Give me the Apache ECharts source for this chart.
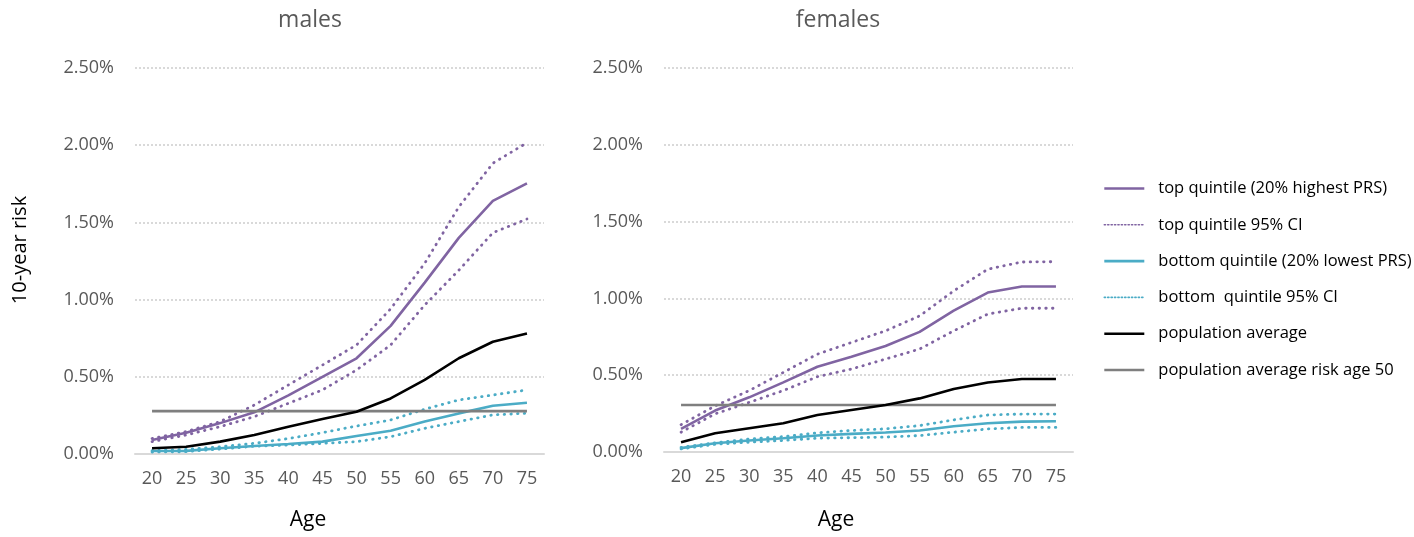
<!DOCTYPE html>
<html>
<head>
<meta charset="utf-8">
<script src="https://cdn.jsdelivr.net/npm/echarts@6/dist/echarts.min.js"></script>
<style>
html,body{margin:0;padding:0;background:#fff;}
#chart{width:1414px;height:537px;}
</style>
</head>
<body>
<div id="chart"></div>
<script>
// ---- data (values in %) ----
const ages = ['20','25','30','35','40','45','50','55','60','65','70','75'];
const yTicks = [0, 0.5, 1.0, 1.5, 2.0, 2.5];

const maleTop    = [0.09, 0.138, 0.20, 0.27, 0.38, 0.50, 0.62, 0.83, 1.11, 1.40, 1.64, 1.753];
const maleTopUp  = [0.10, 0.145, 0.21, 0.317, 0.447, 0.576, 0.706, 0.94, 1.235, 1.60, 1.883, 2.016];
const maleTopLo  = [0.08, 0.123, 0.177, 0.242, 0.328, 0.415, 0.544, 0.706, 0.965, 1.19, 1.433, 1.522];
const maleBot    = [0.019, 0.02, 0.037, 0.052, 0.065, 0.08, 0.117, 0.151, 0.21, 0.263, 0.313, 0.332];
const maleBotUp  = [0.022, 0.03, 0.047, 0.069, 0.10, 0.138, 0.181, 0.22, 0.29, 0.35, 0.382, 0.415];
const maleBotLo  = [0.013, 0.015, 0.032, 0.05, 0.058, 0.069, 0.08, 0.112, 0.166, 0.21, 0.253, 0.264];
const malePop    = [0.037, 0.047, 0.08, 0.123, 0.177, 0.227, 0.274, 0.36, 0.48, 0.62, 0.727, 0.78];
const maleRef50  = [0.278, 0.278, 0.278, 0.278, 0.278, 0.278, 0.278, 0.278, 0.278, 0.278, 0.278, 0.278];

const femTop     = [0.15, 0.27, 0.356, 0.453, 0.555, 0.62, 0.69, 0.782, 0.92, 1.038, 1.077, 1.077];
const femTopUp   = [0.178, 0.30, 0.40, 0.518, 0.637, 0.713, 0.789, 0.886, 1.049, 1.19, 1.237, 1.239];
const femTopLo   = [0.129, 0.248, 0.323, 0.40, 0.49, 0.54, 0.605, 0.67, 0.789, 0.898, 0.936, 0.936];
const femBot     = [0.025, 0.057, 0.075, 0.09, 0.107, 0.118, 0.127, 0.14, 0.168, 0.187, 0.198, 0.20];
const femBotUp   = [0.03, 0.06, 0.085, 0.10, 0.125, 0.14, 0.151, 0.172, 0.209, 0.241, 0.247, 0.247];
const femBotLo   = [0.02, 0.05, 0.064, 0.075, 0.09, 0.093, 0.097, 0.107, 0.129, 0.15, 0.16, 0.16];
const femPop     = [0.064, 0.122, 0.155, 0.187, 0.241, 0.274, 0.306, 0.349, 0.41, 0.453, 0.475, 0.475];
const femRef50   = [0.306, 0.306, 0.306, 0.306, 0.306, 0.306, 0.306, 0.306, 0.306, 0.306, 0.306, 0.306];

const names = {
  top: 'top quintile (20% highest PRS)',
  topCI: 'top quintile 95% CI',
  bot: 'bottom quintile (20% lowest PRS)',
  botCI: 'bottom  quintile 95% CI',
  pop: 'population average',
  ref: 'population average risk age 50'
};

// ---- styling ----
const FONT = '"Open Sans", "Noto Sans", sans-serif';
const PURPLE = '#8064a2', TEAL = '#4bacc6', BLACK = '#000000', GREY = '#7f7f7f';
const DOT = [0.5, 6.2];

function mkSeries(idx, name, data, color, dotted) {
  return {
    type: 'line', name: name, data: data,
    xAxisIndex: idx, yAxisIndex: idx,
    symbol: 'none', smooth: false, silent: true,
    lineStyle: { color: color, width: dotted ? 2.8 : 2.6, type: dotted ? DOT : 'solid', cap: dotted ? 'round' : 'butt' },
    itemStyle: { color: color }
  };
}

function panelSeries(idx, top, topUp, topLo, bot, botUp, botLo, pop, ref) {
  return [
    mkSeries(idx, names.topCI, topUp, PURPLE, true),
    mkSeries(idx, names.topCI, topLo, PURPLE, true),
    mkSeries(idx, names.botCI, botUp, TEAL, true),
    mkSeries(idx, names.botCI, botLo, TEAL, true),
    mkSeries(idx, names.top, top, PURPLE, false),
    mkSeries(idx, names.bot, bot, TEAL, false),
    mkSeries(idx, names.ref, ref, GREY, false),
    mkSeries(idx, names.pop, pop, BLACK, false)
  ];
}

function xAxisDef(idx) {
  return {
    type: 'category', gridIndex: idx, data: ages, boundaryGap: true,
    axisLine: { show: true, lineStyle: { color: '#d9d9d9', width: 2 } },
    axisTick: { show: false },
    axisLabel: { color: '#595959', fontFamily: FONT, fontSize: 18, margin: 16 }
  };
}
function yAxisDef(idx) {
  return {
    type: 'value', gridIndex: idx, min: yTicks[0], max: yTicks[yTicks.length - 1], interval: 0.5,
    axisLine: { show: false }, axisTick: { show: false },
    axisLabel: { color: '#595959', fontFamily: FONT, fontSize: 18, margin: 21,
      formatter: v => v.toFixed(2) + '%' },
    splitLine: { show: true, lineStyle: { color: '#d9d9d9', width: 2, type: [2, 2] } }
  };
}

const ciLegendLine = { width: 1.6, type: [1.2, 2.2] };

const chart = echarts.init(document.getElementById('chart'), null, { renderer: 'canvas' });
chart.setOption({
  backgroundColor: '#ffffff',
  animation: false,
  textStyle: { fontFamily: FONT },
  grid: [
    { left: 135, top: 68, width: 409, height: 386 },
    { left: 664, top: 68, width: 409, height: 384 }
  ],
  xAxis: [xAxisDef(0), xAxisDef(1)],
  yAxis: [yAxisDef(0), yAxisDef(1)],
  legend: {
    orient: 'vertical', left: 1098, top: 175,
    itemWidth: 40, itemHeight: 14, itemGap: 19.3,
    itemStyle: { opacity: 0 },
    lineStyle: { width: 2.6 },
    data: [
      { name: names.top },
      { name: names.topCI, lineStyle: ciLegendLine },
      { name: names.bot },
      { name: names.botCI, lineStyle: ciLegendLine },
      { name: names.pop },
      { name: names.ref }
    ],
    textStyle: { color: '#000', fontFamily: FONT, fontSize: 16.5, padding: [0, 0, 0, 9] },
    selectedMode: false
  },
  graphic: [
    { type: 'text', x: 310, y: 20, style: { text: 'males', fontFamily: FONT, fontSize: 23, fill: '#595959', align: 'center', verticalAlign: 'middle' } },
    { type: 'text', x: 838, y: 20, style: { text: 'females', fontFamily: FONT, fontSize: 23, fill: '#595959', align: 'center', verticalAlign: 'middle' } },
    { type: 'text', x: 308, y: 520, style: { text: 'Age', fontFamily: FONT, fontSize: 21, fill: '#000', align: 'center', verticalAlign: 'middle' } },
    { type: 'text', x: 836, y: 520, style: { text: 'Age', fontFamily: FONT, fontSize: 21, fill: '#000', align: 'center', verticalAlign: 'middle' } },
    { type: 'text', x: 20, y: 250, rotation: Math.PI / 2, style: { text: '10-year risk', fontFamily: FONT, fontSize: 20, fill: '#000', align: 'center', verticalAlign: 'middle' } }
  ],
  series: [].concat(
    panelSeries(0, maleTop, maleTopUp, maleTopLo, maleBot, maleBotUp, maleBotLo, malePop, maleRef50),
    panelSeries(1, femTop, femTopUp, femTopLo, femBot, femBotUp, femBotLo, femPop, femRef50)
  )
});
</script>
</body>
</html>
